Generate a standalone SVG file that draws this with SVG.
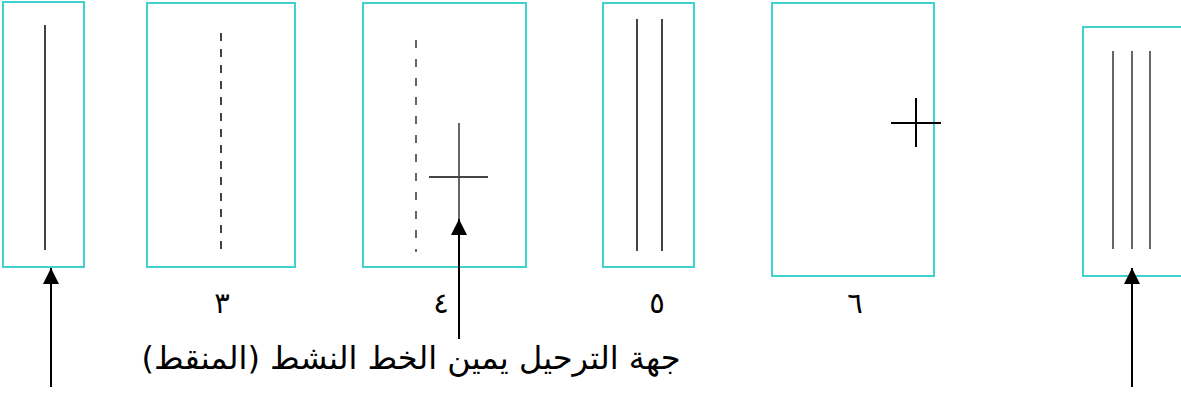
<svg xmlns="http://www.w3.org/2000/svg" width="1181" height="401" viewBox="0 0 1181 401">
<style>
.box{fill:#fff;stroke:#3fd0d0;stroke-width:2}
.ln{stroke:#444;stroke-width:2;fill:none}
.thin{stroke:#333;stroke-width:1.5;fill:none}
.blk{stroke:#000;stroke-width:2;fill:none}
.arr{stroke:#000;stroke-width:2;fill:none;marker-end:url(#ah)}
.t{font-family:"DejaVu Sans","Noto Sans",sans-serif;fill:#000}
.d{font-size:29px}
</style>
<defs>
<marker id="ah" viewBox="0 0 16 16" refX="16" refY="8" markerWidth="16" markerHeight="16" markerUnits="userSpaceOnUse" orient="auto">
<path d="M0,0 L16,8 L0,16 z" fill="#000"/>
</marker>
</defs>
<rect width="1181" height="401" fill="#fff"/>
<g id="node1">
<rect class="box" x="3" y="2" width="81" height="265"/>
<line class="ln" x1="45" y1="25" x2="45" y2="250" stroke-width="2.4"/>
</g>
<g id="node3">
<rect class="box" x="147" y="3" width="148" height="264"/>
<line class="ln" x1="221" y1="33" x2="221" y2="256" stroke-dasharray="8 8"/>
<text class="t d" x="222" y="313" text-anchor="middle">٣</text>
</g>
<g id="node4">
<rect class="box" x="363" y="3" width="163" height="264"/>
<line class="thin" x1="416" y1="40" x2="416" y2="252" stroke-dasharray="8 11"/>
<line class="thin" x1="459" y1="123" x2="459" y2="220"/>
<line class="ln" x1="429" y1="177" x2="488" y2="177"/>
<text class="t d" x="441" y="313" text-anchor="middle">٤</text>
</g>
<g id="node5">
<rect class="box" x="603" y="3" width="91" height="264"/>
<line class="ln" x1="637" y1="19" x2="637" y2="251"/>
<line class="ln" x1="662" y1="19" x2="662" y2="251"/>
<text class="t d" x="657" y="313" text-anchor="middle">٥</text>
</g>
<g id="node6">
<rect class="box" x="772" y="3" width="162" height="273"/>
<line class="blk" x1="916" y1="98" x2="916" y2="147"/>
<line class="blk" x1="891" y1="123" x2="941" y2="123"/>
<text class="t d" x="855" y="313" text-anchor="middle">٦</text>
</g>
<g id="node7">
<rect class="box" x="1083" y="27" width="110" height="249"/>
<line class="thin" x1="1113" y1="51" x2="1113" y2="249"/>
<line class="thin" x1="1132" y1="51" x2="1132" y2="249"/>
<line class="thin" x1="1150" y1="51" x2="1150" y2="249"/>
</g>
<g id="connectors">
<line class="arr" x1="51" y1="387" x2="51" y2="268"/>
<line class="arr" x1="459" y1="339" x2="459" y2="219"/>
<line class="arr" x1="1132" y1="387" x2="1132" y2="268"/>
</g>
<g id="label">
<text class="t" x="411" y="369" font-size="32" text-anchor="middle" direction="rtl">جهة الترحيل يمين الخط النشط (المنقط)</text>
</g>
</svg>
